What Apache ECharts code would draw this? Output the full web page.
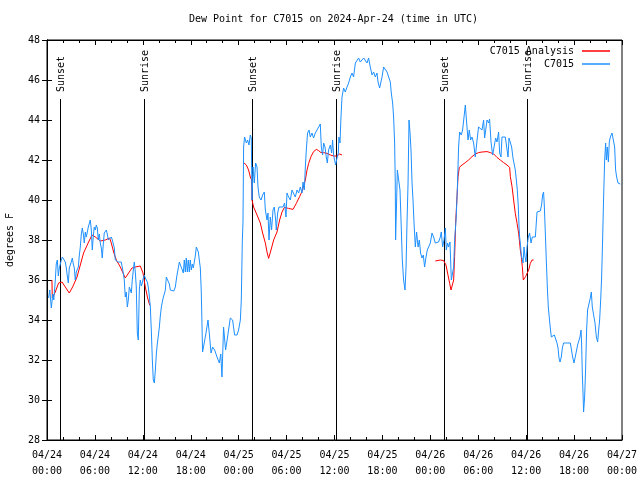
<!DOCTYPE html>
<html>
<head>
<meta charset="utf-8">
<script src="https://cdn.jsdelivr.net/npm/echarts@6/dist/echarts.min.js"></script>
<style>
html,body{margin:0;padding:0;background:#fff;}
#chart{width:640px;height:480px;}
</style>
</head>
<body>
<div id="chart"></div>
<script>
// ---- data (hours since 2024-04-24 00:00 UTC) ----
const titleText = 'Dew Point for C7015 on 2024-Apr-24 (time in UTC)';
const yAxisName = 'degrees F';
const xTickLabels = ['04/24\n00:00','04/24\n06:00','04/24\n12:00','04/24\n18:00',
  '04/25\n00:00','04/25\n06:00','04/25\n12:00','04/25\n18:00',
  '04/26\n00:00','04/26\n06:00','04/26\n12:00','04/26\n18:00','04/27\n00:00'];
const seriesNames = ['C7015 Analysis', 'C7015'];

const sunTimes = [1.58, 12.1, 25.62, 36.14, 49.66, 60.08];
const sunNames = ['Sunset','Sunrise','Sunset','Sunrise','Sunset','Sunrise'];
const sunLineTop = 45.05;

const analysisHours = [0.62,0.66,1.04,1.45,1.88,2.29,2.79,3.21,3.76,4.17,4.58,5.21,5.64,6.05,6.67,7.30,7.84,8.05,8.34,8.68,9.18,9.80,10.22,10.64,11.06,11.68,11.90,12.02,12.31,12.60,12.85,12.94,
  18.0,
  24.62,24.96,25.24,25.46,25.62,25.67,25.87,26.30,26.71,27.00,27.34,27.55,27.75,28.05,28.38,28.80,29.13,29.43,29.72,30.25,30.80,31.22,31.63,31.93,32.13,32.35,32.56,32.76,33.06,33.38,33.72,34.01,34.31,34.64,35.06,35.48,35.89,36.31,36.64,36.94,
  42.0,
  48.62,48.84,49.25,49.66,49.96,50.21,50.42,50.59,50.79,50.92,51.04,51.17,51.34,51.47,51.63,51.97,52.38,52.79,53.22,53.63,54.04,54.47,55.10,55.51,55.93,56.35,56.76,57.18,57.60,57.93,58.02,58.23,58.43,58.64,58.86,59.06,59.27,59.39,59.52,59.64,59.77,59.93,60.11,60.31,60.52,60.73,60.93];
const analysisValues = [36.0,35.1,35.4,35.85,35.9,35.65,35.35,35.65,36.15,36.75,37.35,37.9,38.25,38.15,37.95,38.0,38.1,37.85,37.4,37.0,36.65,36.1,36.35,36.6,36.65,36.7,36.7,36.35,35.65,35.1,34.75,34.75,
  null,
  41.87,41.75,41.5,41.15,41.0,40.0,39.65,39.25,38.85,38.35,37.85,37.4,37.08,37.5,38.0,38.4,39.0,39.4,39.63,39.58,39.53,39.83,40.17,40.42,40.5,41.0,41.5,41.83,42.17,42.42,42.53,42.47,42.37,42.37,42.33,42.25,42.2,42.2,42.3,42.25,
  null,
  36.95,37.05,37.0,36.97,36.75,36.25,35.83,35.5,35.45,36.0,37.17,38.83,40.17,41.17,41.63,41.75,41.87,42.0,42.17,42.3,42.37,42.4,42.42,42.37,42.3,42.13,42.0,41.87,41.75,41.63,41.17,40.67,40.0,39.33,38.83,38.33,37.5,37.17,36.67,36.0,35.92,36.17,36.17,36.5,36.83,37.0,37.0];

const stationHours = [0.20,0.35,0.54,0.73,0.85,1.04,1.16,1.29,1.42,1.54,1.67,1.79,1.92,2.10,2.29,2.42,2.54,2.67,2.79,2.92,3.04,3.17,3.29,3.42,3.54,3.67,3.79,3.92,4.04,4.17,4.30,4.42,4.55,4.67,4.80,4.92,5.05,5.17,5.30,5.42,5.55,5.67,5.80,5.92,6.05,6.17,6.30,6.42,6.55,6.67,6.80,6.92,7.05,7.17,7.30,7.43,7.55,7.68,7.86,8.05,8.18,8.30,8.43,8.55,8.74,8.93,9.12,9.30,9.49,9.68,9.80,9.93,10.06,10.18,10.31,10.43,10.56,10.68,10.81,10.93,11.06,11.18,11.31,11.43,11.56,11.68,11.81,11.93,12.06,12.18,12.31,12.43,12.56,12.68,12.81,12.94,13.06,13.19,13.31,13.44,13.57,13.69,13.82,13.94,14.07,14.19,14.32,14.44,14.57,14.69,14.82,14.94,15.07,15.19,15.32,15.44,15.57,15.69,15.88,16.07,16.19,16.32,16.44,16.57,16.69,16.82,16.94,17.07,17.19,17.32,17.44,17.57,17.69,17.82,17.94,18.07,18.19,18.32,18.45,18.57,18.70,18.82,18.95,19.07,19.20,19.32,19.48,19.70,19.91,20.16,20.32,20.54,20.74,20.99,21.29,21.58,21.76,21.91,22.11,22.36,22.61,22.95,23.24,23.49,23.79,23.99,24.21,24.33,24.46,24.54,24.62,24.74,24.96,25.12,25.29,25.46,25.58,25.67,25.80,25.96,26.12,26.30,26.42,26.58,26.80,27.00,27.21,27.34,27.55,27.67,27.80,27.96,28.12,28.30,28.46,28.63,28.71,28.88,29.05,29.30,29.55,29.75,29.93,30.05,30.25,30.47,30.68,30.88,31.09,31.31,31.51,31.72,31.93,32.06,32.22,32.35,32.47,32.63,32.81,32.97,33.18,33.38,33.60,33.81,34.01,34.22,34.35,34.51,34.64,34.81,34.97,35.10,35.26,35.48,35.64,35.76,35.89,36.14,36.31,36.48,36.55,36.62,36.69,36.81,36.94,37.14,37.35,37.57,37.77,37.98,38.19,38.39,38.61,38.82,39.02,39.23,39.44,39.65,39.86,40.07,40.27,40.48,40.70,40.90,41.11,41.32,41.45,41.65,41.82,41.95,42.15,42.36,42.58,42.78,42.99,43.11,43.28,43.40,43.53,43.61,43.65,43.74,43.87,44.03,44.20,44.33,44.49,44.65,44.83,44.96,45.08,45.21,45.33,45.46,45.58,45.71,45.83,45.96,46.12,46.28,46.46,46.62,46.78,46.96,47.12,47.28,47.46,47.62,47.78,48.00,48.21,48.41,48.62,48.84,49.04,49.25,49.37,49.54,49.71,49.88,50.00,50.16,50.29,50.46,50.63,50.79,50.92,51.04,51.22,51.38,51.54,51.67,51.88,52.04,52.22,52.38,52.55,52.72,52.88,53.04,53.22,53.42,53.63,53.85,54.04,54.26,54.47,54.67,54.80,55.10,55.30,55.42,55.60,55.80,56.01,56.18,56.35,56.55,56.68,56.85,56.97,57.39,57.60,57.73,57.85,58.02,58.18,58.35,58.51,58.64,58.77,58.89,59.02,59.11,59.18,59.27,59.39,59.52,59.61,59.73,59.86,59.98,60.11,60.27,60.43,60.61,60.77,60.93,61.15,61.36,61.56,61.77,61.93,62.06,62.18,62.27,62.40,62.52,62.65,62.77,62.90,63.02,63.15,63.31,63.53,63.69,63.86,63.99,64.11,64.24,64.40,64.53,64.69,65.12,65.53,65.69,65.82,65.99,66.15,66.32,66.44,66.62,66.74,66.87,66.94,67.03,67.12,67.19,67.32,67.44,67.57,67.69,67.87,68.03,68.16,68.28,68.45,68.62,68.79,68.95,69.08,69.20,69.33,69.45,69.58,69.70,69.83,69.95,70.04,70.16,70.29,70.41,70.54,70.75,70.95,71.08,71.20,71.33,71.50,71.79];
const stationValues = [35.1,35.5,34.6,35.3,35.0,36.0,36.8,37.0,36.2,36.6,36.5,37.0,37.15,37.1,36.9,36.6,36.2,35.85,36.6,36.5,36.9,37.1,36.8,36.6,36.0,36.4,36.5,36.65,37.2,37.65,38.3,38.6,38.3,37.85,38.4,38.15,38.4,38.65,38.7,39.0,38.5,37.5,38.2,38.65,38.5,38.75,38.6,38.0,38.3,37.85,37.6,37.1,37.8,38.35,38.4,38.5,38.3,38.0,38.1,38.15,38.0,38.0,37.6,37.0,37.0,36.9,36.9,36.9,36.5,36.0,35.15,35.4,34.65,35.0,35.65,35.6,35.35,36.0,36.5,36.9,36.4,35.65,33.35,33.0,35.5,36.0,35.7,35.85,36.1,36.25,36.1,36.0,35.9,35.65,35.2,34.65,33.5,32.0,31.0,30.85,31.5,32.3,32.85,33.2,33.65,34.2,34.65,34.9,35.15,35.3,35.5,36.15,36.2,36.1,35.8,35.5,35.4,35.4,35.45,35.65,36.0,36.35,36.6,36.9,37.0,37.0,36.5,36.35,37.0,36.4,37.1,36.4,37.0,36.4,37.0,36.5,36.8,36.6,36.7,37.2,37.65,37.6,37.4,37.0,36.6,35.4,32.4,32.4,33.35,34.0,33.35,32.35,32.65,32.5,32.15,31.85,32.3,31.15,33.65,32.5,33.15,34.1,34.0,33.25,33.25,33.5,34.0,35.0,38.0,38.85,42.65,43.15,42.85,43.0,42.75,43.25,43.1,40.0,41.65,40.85,41.85,41.65,40.65,40.15,40.0,40.25,40.4,39.5,39.0,39.35,38.0,39.15,38.5,39.5,39.65,39.0,38.5,39.35,39.65,39.6,39.65,39.85,39.15,40.35,40.15,40.0,40.5,40.6,40.15,40.5,40.35,40.65,40.35,40.9,40.5,41.65,42.5,43.35,43.5,43.15,43.35,43.1,43.35,43.5,43.4,43.8,42.65,42.25,42.85,42.65,42.15,41.85,42.5,42.75,42.35,43.0,42.25,41.75,42.1,42.35,43.15,43.25,42.85,44.15,45.15,45.6,45.4,45.65,45.85,46.15,46.35,46.15,46.85,46.9,47.1,46.9,47.0,47.1,47.0,46.85,47.1,46.65,46.25,46.4,46.15,46.35,45.9,45.6,45.6,46.15,46.65,46.75,46.4,46.15,45.9,45.35,44.85,44.15,42.85,40.85,38.0,39.35,41.5,41.5,40.5,39.0,37.0,36.0,35.5,36.65,38.85,40.85,44.0,43.35,42.5,40.85,40.0,38.85,37.65,38.4,37.65,38.0,37.35,37.1,37.25,36.65,37.15,37.5,37.4,37.85,38.35,38.15,37.85,37.9,37.9,38.15,38.4,37.65,38.0,38.6,37.5,37.85,37.65,37.9,36.0,36.0,36.65,38.0,39.0,40.5,42.65,43.4,43.25,43.5,44.15,44.75,43.85,43.0,43.5,43.0,43.15,42.85,42.15,43.0,43.65,43.75,43.5,44.0,43.1,44.0,43.85,44.05,42.9,42.25,42.15,43.1,42.9,43.4,42.35,42.15,43.15,43.15,43.15,42.15,43.1,43.0,42.65,42.1,42.0,41.5,41.0,40.5,39.65,38.65,38.15,37.85,37.25,37.35,36.85,37.65,37.15,36.9,37.65,38.15,38.35,37.85,38.15,38.1,38.15,39.4,39.5,39.45,39.75,40.25,40.4,39.75,38.35,37.0,35.65,34.65,34.1,33.6,33.15,33.25,33.25,33.25,32.85,32.6,32.1,31.9,32.15,32.6,32.85,32.85,32.85,32.85,32.15,31.85,31.85,32.5,32.75,32.85,33.15,33.5,32.85,31.35,30.35,29.4,30.15,31.5,33.5,34.5,34.6,35.1,35.4,34.65,34.25,33.85,33.15,32.9,33.5,34.0,35.0,36.15,38.15,40.15,42.0,42.85,42.0,42.65,41.9,42.9,43.15,43.35,43.35,42.65,41.5,41.15,40.85,40.8];

// ---- build ----
const FONT = '"DejaVu Sans Mono", "Liberation Mono", monospace';
const zip = (xs, ys) => xs.map((x, i) => [x, ys[i] === null ? null : ys[i]]);
const analysisData = zip(analysisHours, analysisValues);
const stationData = zip(stationHours, stationValues);
const sunData = sunTimes.map((t, i) => [t, sunLineTop, i]);

const chart = echarts.init(document.getElementById('chart'), null, {renderer: 'canvas'});

const baseX = {
  type: 'value', min: 0, max: 72, interval: 6,
  axisLine: {show: true, lineStyle: {color: '#000', width: 1}},
  axisTick: {show: true, inside: true, length: 5, lineStyle: {color: '#000'}},
  minorTick: {show: true, splitNumber: 3, length: 3, lineStyle: {color: '#000'}},
  splitLine: {show: false}
};
const baseY = {
  type: 'value', min: 28, max: 48, interval: 2,
  axisLine: {show: true, lineStyle: {color: '#000', width: 1}},
  axisTick: {show: true, inside: true, length: 5, lineStyle: {color: '#000'}},
  splitLine: {show: false}
};
const legendText = {fontFamily: FONT, fontSize: 10, color: '#000', padding: [0, 3, 0, 0]};

chart.setOption({
  animation: false,
  backgroundColor: '#fff',
  title: {
    text: titleText, left: 189, top: 14, padding: 0,
    textStyle: {fontFamily: FONT, fontSize: 10, fontWeight: 'normal', color: '#000'}
  },
  legend: [
    {data: [seriesNames[0]], right: 30, top: 46, padding: 0, orient: 'vertical', align: 'right',
     icon: 'rect', itemWidth: 28, itemHeight: 1.5, itemGap: 0, textStyle: legendText},
    {data: [seriesNames[1]], right: 30, top: 59, padding: 0, orient: 'vertical', align: 'right',
     icon: 'rect', itemWidth: 28, itemHeight: 1.5, itemGap: 0, textStyle: legendText}
  ],
  grid: {left: 47, right: 18, top: 40, bottom: 40, show: true, borderColor: '#000', borderWidth: 1,
         containLabel: false, outerBoundsMode: 'none'},
  xAxis: [
    Object.assign({}, baseX, {
      position: 'bottom',
      axisLabel: {
        show: true, margin: 7, color: '#000', fontFamily: FONT, fontSize: 10, lineHeight: 16,
        formatter: v => xTickLabels[Math.round(v / 6)] || ''
      }
    }),
    Object.assign({}, baseX, {position: 'top', axisLabel: {show: false}})
  ],
  yAxis: [
    Object.assign({}, baseY, {
      position: 'left',
      name: yAxisName, nameLocation: 'middle', nameGap: 32, nameRotate: 90,
      nameTextStyle: {fontFamily: FONT, fontSize: 10, color: '#000'},
      axisLabel: {show: true, margin: 7, color: '#000', fontFamily: FONT, fontSize: 10}
    }),
    Object.assign({}, baseY, {position: 'right', axisLabel: {show: false}})
  ],
  series: [
    {
      name: 'sun', type: 'custom', xAxisIndex: 0, yAxisIndex: 0, z: 1,
      data: sunData, silent: true,
      renderItem: function (params, api) {
        const x = api.value(0);
        const p0 = api.coord([x, 28]);
        const p1 = api.coord([x, api.value(1)]);
        const px = Math.round(p0[0]) + 0.5;
        return {
          type: 'group',
          children: [
            {type: 'line', shape: {x1: px, y1: p0[1], x2: px, y2: p1[1]},
             style: {stroke: '#000', lineWidth: 1}},
            {type: 'text', x: px + 1, y: p1[1] - 7, rotation: Math.PI / 2,
             style: {text: sunNames[api.value(2)], font: '10px ' + FONT, fill: '#000',
                     align: 'left', verticalAlign: 'middle'}}
          ]
        };
      }
    },
    {
      name: seriesNames[0], type: 'line', data: analysisData, symbol: 'none',
      connectNulls: false, z: 2,
      lineStyle: {color: '#ff0000', width: 1}, itemStyle: {color: '#ff0000'}
    },
    {
      name: seriesNames[1], type: 'line', data: stationData, symbol: 'none', z: 3,
      lineStyle: {color: '#1e90ff', width: 1}, itemStyle: {color: '#1e90ff'}
    }
  ]
});
</script>
</body>
</html>
